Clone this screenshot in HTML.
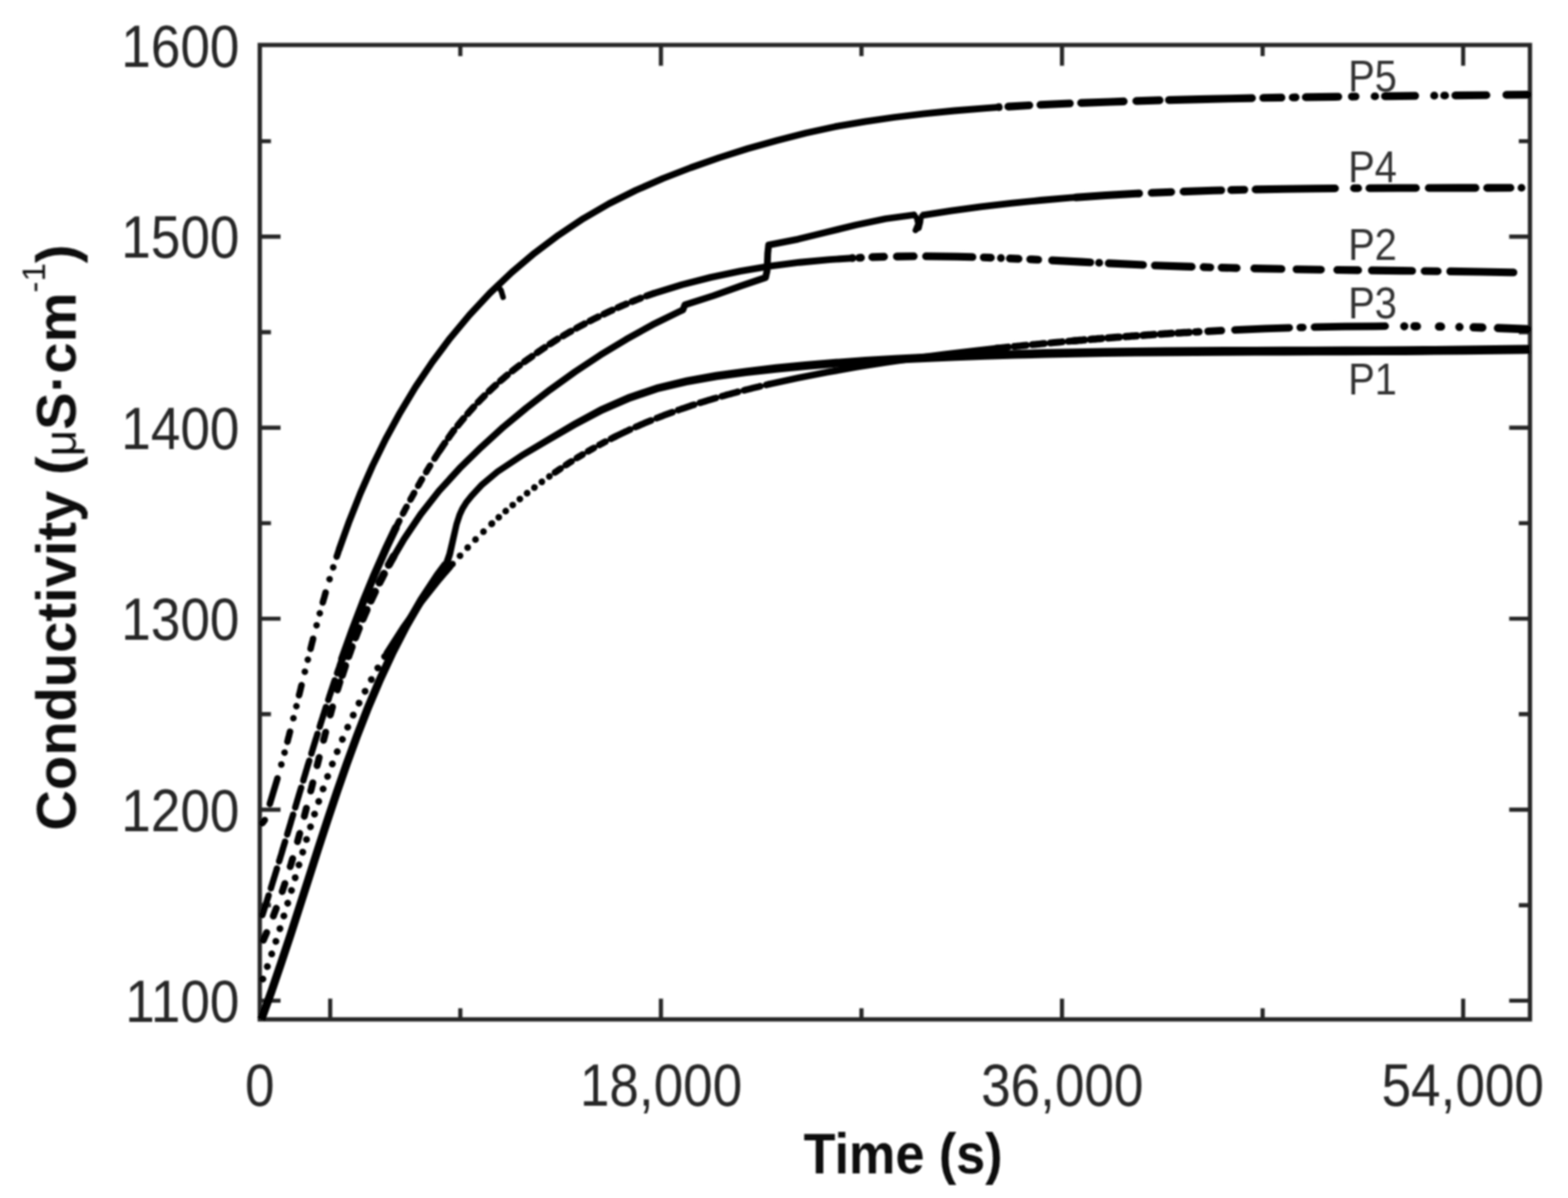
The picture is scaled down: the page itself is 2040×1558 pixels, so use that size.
<!DOCTYPE html>
<html lang="en">
<head>
<meta charset="utf-8">
<title>Conductivity vs Time</title>
<style>
html,body{margin:0;padding:0;background:#fff;}
body{width:2040px;height:1558px;overflow:hidden;}
svg{display:block;}
.t{font-family:"Liberation Sans",Arial,Helvetica,sans-serif;fill:#262626;}
.p{font-family:"Liberation Sans",Arial,Helvetica,sans-serif;fill:#333;}
.b{font-family:"Liberation Sans",Arial,Helvetica,sans-serif;font-weight:bold;fill:#111;}
</style>
</head>
<body>
<svg xmlns="http://www.w3.org/2000/svg" width="2040" height="1558" viewBox="0 0 2040 1558">
<defs><filter id="soft" x="0" y="0" width="2040" height="1558" filterUnits="userSpaceOnUse"><feGaussianBlur stdDeviation="1.25"/></filter></defs>
<rect width="2040" height="1558" fill="#fff"/>
<g filter="url(#soft)">
<g id="axes">
<rect x="338.0" y="58.5" width="1652.5" height="1267.2" fill="none" stroke="#262626" stroke-width="5.6"/>
<path d="M338.0 307.8h27 M1990.5 307.8h-27" stroke="#262626" stroke-width="5.4"/>
<path d="M338.0 556.2h27 M1990.5 556.2h-27" stroke="#262626" stroke-width="5.4"/>
<path d="M338.0 804.6h27 M1990.5 804.6h-27" stroke="#262626" stroke-width="5.4"/>
<path d="M338.0 1053.0h27 M1990.5 1053.0h-27" stroke="#262626" stroke-width="5.4"/>
<path d="M338.0 1301.4h27 M1990.5 1301.4h-27" stroke="#262626" stroke-width="5.4"/>
<path d="M338.0 183.6h14.5 M1990.5 183.6h-14.5" stroke="#262626" stroke-width="5.4"/>
<path d="M338.0 432.0h14.5 M1990.5 432.0h-14.5" stroke="#262626" stroke-width="5.4"/>
<path d="M338.0 680.4h14.5 M1990.5 680.4h-14.5" stroke="#262626" stroke-width="5.4"/>
<path d="M338.0 928.8h14.5 M1990.5 928.8h-14.5" stroke="#262626" stroke-width="5.4"/>
<path d="M338.0 1177.2h14.5 M1990.5 1177.2h-14.5" stroke="#262626" stroke-width="5.4"/>
<path d="M429.6 1325.7v-27" stroke="#262626" stroke-width="5.4"/>
<path d="M859.9 1325.7v-27 M859.9 58.5v27" stroke="#262626" stroke-width="5.4"/>
<path d="M1381.7 1325.7v-27 M1381.7 58.5v27" stroke="#262626" stroke-width="5.4"/>
<path d="M1903.6 1325.7v-27 M1903.6 58.5v27" stroke="#262626" stroke-width="5.4"/>
<path d="M598.9 1325.7v-14.5 M598.9 58.5v14.5" stroke="#262626" stroke-width="5.4"/>
<path d="M1120.8 1325.7v-14.5 M1120.8 58.5v14.5" stroke="#262626" stroke-width="5.4"/>
<path d="M1642.7 1325.7v-14.5 M1642.7 58.5v14.5" stroke="#262626" stroke-width="5.4"/>
</g>
<g id="curves">
<path d="M341.2 1275.1 L341.8 1273.7 L342.3 1272.3 L342.8 1270.9 L343.3 1269.5 L343.9 1268.1 L344.4 1266.7 L344.9 1265.3 L345.4 1263.9 L345.9 1262.4 L346.4 1261.0 L346.9 1259.6 L347.4 1258.2 L347.9 1256.8 L348.4 1255.4 L348.9 1254.0 L349.4 1252.6 L349.9 1251.1 L350.4 1249.7 L350.9 1248.3 L351.4 1246.9 L351.9 1245.5 L352.4 1244.0 L352.9 1242.6 L353.3 1241.2 L353.8 1239.8 L354.3 1238.4 L354.8 1236.9 L355.3 1235.5 L355.7 1234.1 L356.2 1232.7 L356.7 1231.2 L357.1 1229.8 L357.6 1228.4 L358.1 1227.0 L358.5 1225.5 L359.0 1224.1 L359.5 1222.7 L359.9 1221.3 L360.4 1219.8 L360.8 1218.4 L361.3 1217.0 L361.7 1215.5 L362.2 1214.1 L362.7 1212.7 L363.1 1211.3 L363.6 1209.8 L364.0 1208.4 L364.4 1207.0 L364.9 1205.5 L365.3 1204.1 L365.8 1202.7 L366.2 1201.2 L366.7 1199.8 L367.1 1198.4 L367.5 1196.9 L368.0 1195.5 L368.4 1194.1 L368.9 1192.6 L369.3 1191.2 L369.7 1189.8 L370.2 1188.3 L370.6 1186.9 L371.0 1185.5 L371.5 1184.0 L371.9 1182.6 L372.3 1181.1 L372.8 1179.7 L373.2 1178.3 L373.6 1176.8 L374.1 1175.4 L374.5 1174.0 L374.9 1172.5 L375.3 1171.1 L375.8 1169.6 L376.2 1168.2 L376.6 1166.8 L377.0 1165.3 L377.5 1163.9 L377.9 1162.4 L378.3 1161.0 L378.7 1159.6 L379.2 1158.1 L379.6 1156.7 L380.0 1155.3 L380.4 1153.8 L380.8 1152.4 L381.3 1150.9 L381.7 1149.5 L382.1 1148.1 L382.5 1146.6 L383.0 1145.2 L383.4 1143.7 L383.8 1142.3 L384.2 1140.9 L384.6 1139.4 L385.1 1138.0 L385.5 1136.5 L385.9 1135.1 L386.3 1133.7 L386.8 1132.2 L387.2 1130.8 L387.6 1129.3 L388.0 1127.9 L388.4 1126.5 L388.9 1125.0 L389.3 1123.6 L389.7 1122.2 L390.1 1120.7 L390.6 1119.3 L391.0 1117.8 L391.4 1116.4 L391.8 1115.0 L392.3 1113.5 L392.7 1112.1 L393.1 1110.6 L393.6 1109.2 L394.0 1107.8 L394.4 1106.3 L394.8 1104.9 L395.3 1103.5 L395.7 1102.0 L396.1 1100.6 L396.6 1099.2 L397.0 1097.7 L397.4 1096.3 L397.9 1094.8 L398.3 1093.4 L398.7 1092.0 L399.2 1090.5 L399.6 1089.1 L400.1 1087.7 L400.5 1086.2 L400.9 1084.8 L401.4 1083.4 L401.8 1081.9 L402.3 1080.5 L402.7 1079.1 L403.2 1077.6 L403.6 1076.2 L404.1 1074.8 L404.5 1073.3 L405.0 1071.9 L405.4 1070.5 L405.9 1069.1 L406.3 1067.6 L406.8 1066.2 L407.3 1064.8 L407.7 1063.3 L408.2 1061.9 L408.6 1060.5 L409.1 1059.1 L409.6 1057.6 L410.0 1056.2 L410.5 1054.8 L411.0 1053.4 L411.4 1051.9 L411.9 1050.5 L412.4 1049.1 L412.9 1047.7 L413.3 1046.2 L413.8 1044.8 L414.3 1043.4 L414.8 1042.0 L415.3 1040.6 L415.8 1039.1 L416.2 1037.7 L416.7 1036.3 L417.2 1034.9 L417.7 1033.5 L418.2 1032.1 L418.7 1030.6 L419.2 1029.2 L419.7 1027.8 L420.2 1026.4 L420.7 1025.0 L421.2 1023.6 L421.7 1022.2 L422.2 1020.8 L422.7 1019.3 L423.2 1017.9 L423.8 1016.5 L424.3 1015.1 L424.8 1013.7 L425.3 1012.3 L425.8 1010.9 L426.3 1009.5 L426.9 1008.1 L427.4 1006.7 L427.9 1005.3 L428.4 1003.9 L429.0 1002.5 L429.5 1001.1 L430.0 999.7 L430.6 998.3 L431.1 996.9 L431.7 995.5 L432.2 994.1 L432.7 992.7 L433.3 991.3 L433.8 989.9 L434.4 988.5 L434.9 987.1 L435.5 985.7 L436.0 984.3 L436.6 982.9 L437.2 981.5 L437.7 980.1 L438.3 978.7 L438.8 977.3 L439.4 975.9 L440.0 974.5 L440.5 973.2 L441.1 971.8 L441.7 970.4 L442.3 969.0 L442.8 967.6 L443.4 966.2 L444.0 964.9 L444.6 963.5 L445.2 962.1 L445.8 960.7 L446.4 959.3 L447.0 958.0 L447.6 956.6 L448.1 955.2 L448.7 953.8 L449.4 952.5 L450.0 951.1 L450.6 949.7 L451.2 948.3 L451.8 947.0 L452.4 945.6 L453.0 944.2 L453.6 942.9 L454.2 941.5 L454.9 940.1 L455.5 938.8 L456.1 937.4 L456.7 936.0 L457.4 934.7 L458.0 933.3 L458.6 932.0 L459.3 930.6 L459.9 929.2 L460.6 927.9 L461.2 926.5 L461.9 925.2 L462.5 923.8 L463.2 922.5 L463.8 921.1 L464.5 919.8 L465.1 918.4 L465.8 917.1 L466.4 915.7 L467.1 914.4 L467.8 913.1 L468.4 911.7 L469.1 910.4 L469.8 909.0 L470.5 907.7 L471.2 906.4 L471.8 905.0 L472.5 903.7 L473.2 902.4 L473.9 901.0 L474.6 899.7 L475.3 898.4 L476.0 897.0 L476.7 895.7 L477.4 894.4 L478.1 893.1 L478.8 891.7 L479.5 890.4 L480.2 889.1 L480.9 887.8 L481.6 886.4 L482.3 885.1 L483.1 883.8 L483.8 882.5 L484.5 881.2 L485.2 879.9 L486.0 878.6 L486.7 877.3 L487.4 875.9 L488.2 874.6 L488.9 873.3 L489.7 872.0 L490.4 870.7 L491.1 869.4 L491.9 868.1 L492.6 866.8 L493.4 865.5 L494.1 864.2 L494.9 862.9 L495.7 861.6 L496.4 860.4 L497.2 859.1 L498.0 857.8 L498.7 856.5 L499.5 855.2 L500.3 853.9 L501.0 852.6 L501.8 851.3 L502.6 850.1 L503.0 849.4" fill="none" stroke="#000" stroke-width="8.9" stroke-linecap="round" stroke-linejoin="round" stroke-dasharray="0.1 17.2" stroke-dashoffset="-2"/>
<path d="M503.0 849.4 L524.5 816.0 L547.2 784.3 L571.4 753.7 L586.0 736.7" fill="none" stroke="#000" stroke-width="8.3" stroke-linecap="round" stroke-linejoin="round"/>
<path d="M588.0 734.4 L588.0 734.4 L589.0 733.2 L590.0 732.1 L591.0 731.0 L592.0 729.9 L593.0 728.8 L594.0 727.7 L595.0 726.6 L596.0 725.4 L597.1 724.3 L598.1 723.2 L599.1 722.1 L600.1 721.0 L601.1 719.9 L602.2 718.8 L603.2 717.7 L604.2 716.6 L605.2 715.6 L606.3 714.5 L607.3 713.4 L608.3 712.3 L609.4 711.2 L610.4 710.1 L611.5 709.0 L612.5 708.0 L613.5 706.9 L614.6 705.8 L615.6 704.7 L616.7 703.7 L617.7 702.6 L618.8 701.5 L619.9 700.5 L620.9 699.4 L622.0 698.4 L623.0 697.3 L624.1 696.2 L625.2 695.2 L626.2 694.1 L627.3 693.1 L628.4 692.0 L629.5 691.0 L630.5 690.0 L631.6 688.9 L632.7 687.9 L633.8 686.8 L634.9 685.8 L636.0 684.8 L637.1 683.7 L638.1 682.7 L639.2 681.7 L640.0 681.0" fill="none" stroke="#000" stroke-width="8.7" stroke-linecap="round" stroke-linejoin="round" stroke-dasharray="0.1 14.5" stroke-dashoffset="-1"/>
<path d="M640.0 681.0 L640.3 680.7 L641.4 679.6 L642.5 678.6 L643.6 677.6 L644.7 676.6 L645.8 675.6 L646.9 674.6 L648.1 673.5 L649.2 672.5 L650.3 671.5 L651.4 670.5 L652.5 669.5 L653.6 668.5 L654.8 667.5 L655.9 666.5 L657.0 665.5 L658.1 664.6 L659.3 663.6 L660.4 662.6 L661.5 661.6 L662.6 660.6 L663.8 659.6 L664.9 658.7 L666.1 657.7 L667.2 656.7 L668.3 655.7 L669.5 654.8 L670.6 653.8 L671.8 652.8 L672.9 651.9 L674.1 650.9 L675.3 650.0 L676.4 649.0 L677.6 648.1 L678.7 647.1 L679.9 646.2 L681.1 645.2 L682.2 644.3 L683.4 643.3 L684.6 642.4 L685.7 641.5 L686.9 640.5 L688.1 639.6 L689.3 638.7 L690.4 637.7 L691.6 636.8 L692.8 635.9 L694.0 635.0 L695.2 634.1 L696.4 633.2 L697.6 632.2 L698.8 631.3 L700.0 630.4 L701.2 629.5 L702.4 628.6 L703.6 627.7 L704.8 626.8 L706.0 625.9 L707.2 625.0 L708.4 624.2 L709.6 623.3 L710.8 622.4 L712.0 621.5 L713.2 620.6 L714.5 619.8 L715.7 618.9 L716.9 618.0 L718.1 617.2 L719.3 616.3 L720.6 615.4 L721.8 614.6 L722.0 614.4" fill="none" stroke="#000" stroke-width="8.7" stroke-linecap="round" stroke-linejoin="round" stroke-dasharray="0.1 12"/>
<path d="M722.0 614.4 L723.0 613.7 L724.3 612.9 L725.5 612.0 L726.7 611.2 L728.0 610.3 L729.2 609.5 L730.5 608.6 L731.7 607.8 L733.0 607.0 L734.2 606.1 L735.5 605.3 L736.7 604.5 L738.0 603.7 L739.2 602.8 L740.5 602.0 L741.7 601.2 L743.0 600.4 L744.3 599.6 L745.5 598.8 L746.8 598.0 L748.1 597.2 L749.4 596.4 L750.6 595.6 L751.9 594.8 L753.2 594.0 L754.5 593.2 L755.7 592.5 L757.0 591.7 L758.3 590.9 L759.6 590.1 L760.9 589.4 L762.2 588.6 L763.5 587.9 L764.8 587.1 L766.1 586.3 L767.4 585.6 L768.7 584.8 L770.0 584.1 L771.3 583.4 L772.6 582.6 L773.9 581.9 L775.2 581.2 L776.5 580.4 L777.8 579.7 L779.1 579.0 L780.4 578.3 L781.8 577.5 L783.1 576.8 L784.4 576.1 L785.7 575.4 L787.1 574.7 L788.4 574.0 L789.7 573.3 L791.0 572.6 L792.4 571.9 L793.7 571.2 L795.0 570.6 L796.4 569.9 L797.7 569.2 L799.1 568.5 L800.0 568.1" fill="none" stroke="#000" stroke-width="8.7" stroke-linecap="round" stroke-linejoin="round" stroke-dasharray="9 8"/>
<path d="M800.0 568.1 L800.4 567.9 L801.7 567.2 L803.1 566.5 L804.4 565.9 L805.8 565.2 L807.1 564.6 L808.5 563.9 L809.8 563.3 L811.2 562.6 L812.5 562.0 L813.9 561.3 L815.3 560.7 L816.6 560.1 L818.0 559.4 L819.3 558.8 L820.7 558.2 L822.1 557.5 L823.4 556.9 L824.8 556.3 L826.2 555.7 L827.5 555.1 L828.9 554.5 L830.3 553.9 L831.7 553.3 L833.0 552.7 L834.4 552.1 L835.8 551.5 L837.2 550.9 L838.5 550.3 L839.9 549.7 L841.3 549.2 L842.7 548.6 L844.1 548.0 L845.5 547.4 L846.9 546.9 L848.2 546.3 L849.6 545.7 L851.0 545.2 L852.4 544.6 L853.8 544.1 L855.2 543.5 L856.6 543.0 L858.0 542.4 L859.4 541.9 L860.8 541.3 L862.2 540.8 L863.6 540.2 L865.0 539.7 L866.4 539.2 L867.8 538.7 L869.2 538.1 L870.6 537.6 L872.0 537.1 L873.4 536.6 L874.8 536.1 L876.2 535.5 L877.7 535.0 L879.1 534.5 L880.5 534.0 L881.9 533.5 L883.3 533.0 L884.7 532.5 L886.1 532.0 L887.6 531.5 L889.0 531.0 L890.4 530.6 L891.8 530.1 L893.2 529.6 L894.7 529.1 L896.1 528.6 L897.5 528.2 L898.9 527.7 L900.3 527.2 L901.8 526.7 L903.2 526.3 L904.6 525.8 L906.1 525.4 L907.5 524.9 L908.9 524.4 L910.3 524.0 L911.8 523.5 L913.2 523.1 L914.6 522.6 L916.1 522.2 L917.5 521.8 L918.9 521.3 L920.4 520.9 L921.8 520.4 L923.2 520.0 L924.7 519.6 L926.1 519.1 L927.6 518.7 L929.0 518.3 L930.4 517.9 L931.9 517.4 L933.3 517.0 L934.8 516.6 L936.2 516.2 L937.6 515.8 L939.1 515.4 L940.5 515.0 L942.0 514.6 L943.4 514.2 L944.9 513.7 L946.3 513.3 L947.7 512.9 L949.2 512.6 L950.6 512.2 L952.1 511.8 L953.5 511.4 L955.0 511.0 L956.4 510.6 L957.9 510.2 L959.3 509.8 L960.8 509.4 L962.2 509.1 L963.7 508.7 L965.1 508.3 L966.6 507.9 L968.0 507.6 L969.5 507.2 L971.0 506.8 L972.4 506.5 L973.9 506.1 L975.3 505.7 L976.8 505.4 L978.2 505.0 L979.7 504.6 L981.1 504.3 L982.6 503.9 L984.1 503.6 L985.5 503.2 L987.0 502.9 L988.4 502.5 L989.9 502.2 L991.3 501.8 L992.8 501.5 L994.3 501.2 L995.7 500.8 L997.2 500.5 L998.7 500.1 L1000.0 499.8" fill="none" stroke="#000" stroke-width="8.7" stroke-linecap="round" stroke-linejoin="round" stroke-dasharray="22 7.8"/>
<path d="M1000.0 499.8 L1038.2 491.5 L1076.5 484.0 L1114.9 477.3 L1153.4 471.1 L1192.0 465.6 L1230.7 460.6 L1269.4 456.0 L1300.0 452.6" fill="none" stroke="#000" stroke-width="8.7" stroke-linecap="butt" stroke-linejoin="round"/>
<path d="M1296.0 453.0 L1296.3 453.0 L1297.8 452.8 L1299.2 452.7 L1300.7 452.5 L1302.2 452.4 L1303.7 452.2 L1305.2 452.1 L1306.7 451.9 L1308.2 451.7 L1309.7 451.6 L1311.2 451.4 L1312.7 451.3 L1314.2 451.1 L1315.7 451.0 L1317.2 450.8 L1318.6 450.7 L1320.1 450.5 L1321.6 450.4 L1323.1 450.2 L1324.6 450.1 L1326.1 449.9 L1327.6 449.8 L1329.1 449.6 L1330.6 449.5 L1332.1 449.3 L1333.6 449.2 L1335.1 449.0 L1336.6 448.9 L1338.0 448.7 L1339.5 448.6 L1341.0 448.4 L1342.5 448.3 L1344.0 448.1 L1345.5 448.0 L1347.0 447.9 L1348.5 447.7 L1350.0 447.6 L1351.5 447.4 L1353.0 447.3 L1354.5 447.1 L1356.0 447.0 L1357.5 446.8 L1358.9 446.7 L1360.4 446.6 L1361.9 446.4 L1363.4 446.3 L1364.9 446.1 L1366.4 446.0 L1367.9 445.9 L1369.4 445.7 L1370.9 445.6 L1372.4 445.5 L1373.9 445.3 L1375.4 445.2 L1376.9 445.0 L1378.4 444.9 L1379.9 444.8 L1381.4 444.6 L1382.8 444.5 L1384.3 444.4 L1385.8 444.2 L1387.3 444.1 L1388.8 444.0 L1390.3 443.8 L1391.8 443.7 L1393.3 443.6 L1394.8 443.4 L1396.3 443.3 L1397.8 443.2 L1399.3 443.0 L1400.0 443.0" fill="none" stroke="#000" stroke-width="9.0" stroke-linecap="round" stroke-linejoin="round" stroke-dasharray="16 7.6"/>
<path d="M1396.0 443.3 L1396.3 443.3 L1397.8 443.2 L1399.3 443.0 L1400.8 442.9 L1402.3 442.8 L1403.8 442.6 L1405.3 442.5 L1406.8 442.4 L1408.2 442.3 L1409.7 442.1 L1411.2 442.0 L1412.7 441.9 L1414.2 441.8 L1415.7 441.6 L1417.2 441.5 L1418.7 441.4 L1420.2 441.2 L1421.7 441.1 L1423.2 441.0 L1424.7 440.9 L1426.2 440.8 L1427.7 440.6 L1429.2 440.5 L1430.7 440.4 L1432.2 440.3 L1433.7 440.1 L1435.2 440.0 L1436.7 439.9 L1438.1 439.8 L1439.6 439.7 L1441.1 439.5 L1442.6 439.4 L1444.1 439.3 L1445.6 439.2 L1447.1 439.1 L1448.6 439.0 L1450.1 438.8 L1451.6 438.7 L1453.1 438.6 L1454.6 438.5 L1456.1 438.4 L1457.6 438.3 L1459.1 438.1 L1460.6 438.0 L1462.1 437.9 L1463.6 437.8 L1465.1 437.7 L1466.6 437.6 L1468.1 437.5 L1469.6 437.4 L1471.0 437.2 L1472.5 437.1 L1474.0 437.0 L1475.5 436.9 L1477.0 436.8 L1478.5 436.7 L1480.0 436.6 L1481.5 436.5 L1483.0 436.4 L1484.5 436.3 L1486.0 436.2 L1487.5 436.1 L1489.0 436.0 L1490.5 435.8 L1492.0 435.7 L1493.5 435.6 L1495.0 435.5 L1496.5 435.4 L1498.0 435.3 L1499.5 435.2 L1501.0 435.1 L1502.5 435.0 L1504.0 434.9 L1505.5 434.8 L1507.0 434.7 L1508.5 434.6 L1510.0 434.5 L1511.5 434.4 L1512.9 434.3 L1514.4 434.2 L1515.9 434.1 L1517.4 434.0 L1518.9 433.9 L1520.4 433.8 L1521.9 433.7 L1523.4 433.6 L1524.9 433.6 L1526.4 433.5 L1527.9 433.4 L1529.4 433.3 L1530.9 433.2 L1532.4 433.1 L1533.9 433.0 L1535.4 432.9 L1536.9 432.8 L1538.4 432.7 L1539.9 432.6 L1541.4 432.5 L1542.9 432.4 L1544.4 432.4 L1545.9 432.3 L1547.4 432.2 L1548.9 432.1 L1550.4 432.0 L1551.9 431.9 L1553.4 431.8 L1554.9 431.7 L1556.4 431.7 L1557.9 431.6 L1559.4 431.5 L1560.0 431.5" fill="none" stroke="#000" stroke-width="9.5" stroke-linecap="round" stroke-linejoin="round" stroke-dasharray="15 7.8"/>
<path d="M1559.0 431.5 L1559.0 431.5 M1571.6 430.8 L1589.1 429.9 M1606.6 429.1 L1646.3 427.4 L1677.4 426.3 M1691.6 425.9 L1695.1 425.8 M1710.1 425.4 L1749.7 424.7 L1788.7 424.3 L1802.2 424.2" fill="none" stroke="#000" stroke-width="9.7" stroke-linecap="round" stroke-linejoin="round"/>
<path d="M1827.0 424.3 L1827.0 424.3 M1840.2 424.3 L1843.4 424.4 M1872.2 424.7 L1874.8 424.7 M1898.7 425.2 L1898.8 425.2 M1917.2 425.7 L1928.5 426.0 M1948.9 426.7 L1986.8 428.2" fill="none" stroke="#000" stroke-width="10.8" stroke-linecap="round" stroke-linejoin="round"/>
<path d="M344.9 1327.7 L358.2 1291.0 L370.8 1254.0 L383.1 1217.0 L395.1 1179.8 L407.0 1142.7 L418.9 1105.6 L431.0 1068.5 L443.4 1031.6 L456.2 994.8 L469.6 958.3 L483.8 922.1 L498.9 886.4 L515.3 851.2 L533.1 816.7 L552.5 783.2 L573.5 750.6 L583.7 735.6 L585.1 735.1 L589.4 721.7 L598.0 682.7 L601.9 670.9 L605.2 663.7 L610.1 655.8 L616.8 647.5 L629.6 633.7 L649.8 616.7 L682.0 595.4 L715.7 575.8 L749.9 556.1 L784.5 537.8 L820.2 522.2 L857.0 509.8 L894.6 501.0 L932.8 494.3 L971.3 489.1 L1009.9 484.7 L1048.6 480.9 L1087.4 477.8 L1126.3 475.1 L1165.2 472.8 L1204.1 470.9 L1243.0 469.2 L1281.9 467.7 L1320.9 466.5 L1359.8 465.5 L1398.8 464.7 L1437.8 464.1 L1476.8 463.5 L1515.7 463.2 L1554.7 462.9 L1593.7 462.7 L1632.7 462.5 L1671.7 462.4 L1710.7 462.3 L1749.7 462.2 L1788.7 462.1 L1827.7 461.9 L1866.7 461.6 L1905.7 461.3 L1944.8 460.8 L1983.8 460.2 L1990.1 460.1 L1989.9 448.4 L1983.6 448.5 L1944.6 449.1 L1905.6 449.6 L1866.6 450.0 L1827.6 450.2 L1788.7 450.4 L1749.7 450.6 L1710.7 450.7 L1671.7 450.8 L1632.7 450.9 L1593.7 451.1 L1554.6 451.3 L1515.6 451.6 L1476.6 452.0 L1437.6 452.5 L1398.6 453.2 L1359.6 454.1 L1320.5 455.2 L1281.5 456.4 L1242.5 457.9 L1203.5 459.7 L1164.5 461.7 L1125.6 464.0 L1086.6 466.8 L1047.7 470.0 L1008.8 473.8 L969.9 478.4 L931.1 483.8 L892.5 490.8 L854.2 500.0 L816.6 512.8 L780.2 528.8 L745.2 547.7 L711.2 568.0 L677.5 588.2 L644.9 609.9 L623.9 627.6 L610.5 642.0 L603.3 651.0 L597.9 659.8 L594.1 668.0 L590.0 680.7 L580.8 719.5 L576.6 731.6 L576.5 729.8 L565.1 745.0 L543.5 777.7 L523.9 811.7 L505.9 846.6 L489.3 882.1 L474.0 918.1 L459.8 954.6 L446.3 991.3 L433.4 1028.2 L421.0 1065.2 L408.9 1102.3 L397.0 1139.5 L385.1 1176.6 L373.1 1213.7 L360.8 1250.6 L348.2 1287.5 L335.0 1324.1Z" fill="#000"/>
<path d="M341.3 1190.1 L341.8 1188.7 L342.3 1187.3 L342.7 1185.8 L343.2 1184.4 L343.6 1183.0 L344.1 1181.5 L344.6 1180.1 L345.0 1178.7 L345.5 1177.3 L345.9 1175.8 L346.4 1174.4 L346.8 1173.0 L347.3 1171.5 L347.7 1170.1 L348.2 1168.7 L348.6 1167.2 L349.1 1165.8 L349.5 1164.4 L350.0 1162.9 L350.4 1161.5 L350.9 1160.1 L351.3 1158.7 L351.8 1157.2 L352.2 1155.8 L352.7 1154.4 L353.1 1152.9 L353.5 1151.5 L354.0 1150.1 L354.4 1148.6 L354.9 1147.2 L355.3 1145.8 L355.8 1144.3 L356.2 1142.9 L356.6 1141.5 L357.1 1140.0 L357.5 1138.6 L358.0 1137.2 L358.4 1135.7 L358.8 1134.3 L359.3 1132.9 L359.7 1131.4 L360.2 1130.0 L360.6 1128.5 L361.0 1127.1 L361.5 1125.7 L361.9 1124.2 L362.3 1122.8 L362.8 1121.4 L363.2 1119.9 L363.6 1118.5 L364.1 1117.1 L364.5 1115.6 L364.9 1114.2 L365.4 1112.8 L365.8 1111.3 L366.3 1109.9 L366.7 1108.4 L367.1 1107.0 L367.5 1105.6 L368.0 1104.1 L368.4 1102.7 L368.8 1101.3 L369.3 1099.8 L369.7 1098.4 L370.1 1097.0 L370.6 1095.5 L371.0 1094.1 L371.4 1092.6 L371.9 1091.2 L372.3 1089.8 L372.7 1088.3 L373.1 1086.9 L373.6 1085.5 L374.0 1084.0 L374.4 1082.6 L374.9 1081.1 L375.3 1079.7 L375.7 1078.3 L376.1 1076.8 L376.6 1075.4 L377.0 1074.0 L377.4 1072.5 L377.9 1071.1 L378.3 1069.6 L378.7 1068.2 L379.1 1066.8 L379.6 1065.3 L380.0 1063.9 L380.4 1062.5 L380.9 1061.0 L381.3 1059.6 L381.7 1058.1 L382.1 1056.7 L382.6 1055.3 L383.0 1053.8 L383.4 1052.4 L383.8 1051.0 L384.3 1049.5 L384.7 1048.1 L385.1 1046.6 L385.6 1045.2 L386.0 1043.8 L386.4 1042.3 L386.8 1040.9 L387.3 1039.5 L387.7 1038.0 L388.1 1036.6 L388.6 1035.1 L389.0 1033.7 L389.4 1032.3 L389.8 1030.8 L390.3 1029.4 L390.7 1028.0 L391.1 1026.5 L391.6 1025.1 L392.0 1023.6 L392.4 1022.2 L392.8 1020.8 L393.3 1019.3 L393.7 1017.9 L394.1 1016.5 L394.6 1015.0 L395.0 1013.6 L395.4 1012.1 L395.9 1010.7 L396.3 1009.3 L396.7 1007.8 L397.2 1006.4 L397.6 1005.0 L398.0 1003.5 L398.4 1002.1 L398.9 1000.7 L399.3 999.2 L399.7 997.8 L400.2 996.3 L400.6 994.9 L401.0 993.5 L401.5 992.0 L401.9 990.6 L402.4 989.2 L402.8 987.7 L403.2 986.3 L403.7 984.9 L404.1 983.4 L404.5 982.0 L405.0 980.6 L405.4 979.1 L405.8 977.7 L406.3 976.3 L406.7 974.8 L407.2 973.4 L407.6 972.0 L408.0 970.5 L408.5 969.1 L408.9 967.6 L409.4 966.2 L409.8 964.8 L410.2 963.3 L410.7 961.9 L411.1 960.5 L411.6 959.0 L412.0 957.6 L412.5 956.2 L412.9 954.8 L413.4 953.3 L413.8 951.9 L414.2 950.5 L414.7 949.0 L415.1 947.6 L415.6 946.2 L416.0 944.7 L416.5 943.3 L416.9 941.9 L417.4 940.4 L417.8 939.0 L418.3 937.6 L418.7 936.1 L419.2 934.7 L419.7 933.3 L420.1 931.9 L420.6 930.4 L421.0 929.0 L421.5 927.6 L421.9 926.1 L422.4 924.7 L422.8 923.3 L423.3 921.9 L423.8 920.4 L424.2 919.0 L424.7 917.6 L425.1 916.1 L425.6 914.7 L426.1 913.3 L426.5 911.9 L427.0 910.4 L427.5 909.0 L427.9 907.6 L428.4 906.2 L428.8 904.7 L429.3 903.3 L429.8 901.9 L430.3 900.5 L430.7 899.0 L431.2 897.6 L431.7 896.2 L432.1 894.8 L432.6 893.3 L433.1 891.9 L433.6 890.5 L434.0 889.1 L434.5 887.6 L435.0 886.2 L435.5 884.8 L435.9 883.4 L436.4 882.0 L436.9 880.5 L437.4 879.1 L437.9 877.7 L438.3 876.3 L438.8 874.9 L439.3 873.4 L439.8 872.0 L440.3 870.6 L440.8 869.2 L441.3 867.8 L441.7 866.3 L442.2 864.9 L442.7 863.5 L443.2 862.1 L443.7 860.7 L444.2 859.2 L444.7 857.8 L445.0 856.9" fill="none" stroke="#000" stroke-width="8.3" stroke-linecap="round" stroke-linejoin="round" stroke-dasharray="27 9.6"/>
<path d="M445.0 856.9 L458.4 819.7 L472.3 783.3 L487.1 747.2 L502.9 711.6 L515.0 686.3" fill="none" stroke="#000" stroke-width="10.2" stroke-linecap="round" stroke-linejoin="round"/>
<path d="M515.0 686.3 L515.2 685.9 L515.9 684.5 L516.6 683.2 L517.2 681.8 L517.9 680.5 L518.6 679.1 L519.3 677.8 L519.9 676.5 L520.6 675.1 L521.3 673.8 L522.0 672.5 L522.7 671.1 L523.4 669.8 L524.0 668.5 L524.7 667.1 L525.4 665.8 L526.1 664.5 L526.8 663.1 L527.5 661.8 L528.2 660.5 L528.9 659.2 L529.6 657.8 L530.3 656.5 L531.1 655.2 L531.8 653.9 L532.5 652.6 L533.2 651.2 L533.9 649.9 L534.6 648.6 L535.4 647.3 L536.1 646.0 L536.8 644.7 L537.5 643.4 L538.3 642.1 L539.0 640.7 L539.8 639.4 L540.5 638.1 L541.2 636.8 L542.0 635.5 L542.7 634.1 L543.5 632.8 L544.2 631.5 L545.0 630.2 L545.7 628.9 L546.5 627.5 L547.2 626.2 L548.0 624.9 L548.8 623.6 L549.5 622.3 L550.3 621.0 L551.1 619.7 L551.8 618.4 L552.6 617.1 L553.4 615.7 L554.2 614.4 L555.0 613.1 L555.8 611.8 L556.5 610.5 L557.3 609.2 L558.1 607.9 L558.9 606.6 L559.7 605.4 L560.5 604.1 L561.3 602.8 L562.1 601.5 L562.9 600.2 L563.8 598.9 L564.6 597.6 L565.4 596.3 L566.2 595.1 L567.0 593.8 L567.9 592.5 L568.7 591.2 L569.5 590.0 L570.4 588.7 L571.2 587.4 L572.0 586.2" fill="none" stroke="#000" stroke-width="8.5" stroke-linecap="round" stroke-linejoin="round" stroke-dasharray="10 10.6"/>
<path d="M572.0 586.2 L572.0 586.1 L572.9 584.9 L573.7 583.6 L574.6 582.4 L575.4 581.1 L576.3 579.8 L577.1 578.6 L578.0 577.3 L578.8 576.1 L579.7 574.8 L580.6 573.6 L581.4 572.3 L582.3 571.1 L583.2 569.8 L584.1 568.6 L585.0 567.3 L585.8 566.1 L586.7 564.9 L587.6 563.6 L588.5 562.4 L589.4 561.2 L590.3 560.0 L591.2 558.8 L592.1 557.7 L593.0 556.5 L593.9 555.4 L594.9 554.2 L595.8 553.1 L596.7 552.0 L597.6 550.8 L598.6 549.7 L599.5 548.6 L600.4 547.5 L601.4 546.3 L602.3 545.2 L603.3 544.1 L604.2 543.0 L605.2 541.9 L606.1 540.8 L607.1 539.6 L608.0 538.5 L609.0 537.4 L610.0 536.3 L610.9 535.2 L611.9 534.2 L612.9 533.1 L613.9 532.0 L614.8 530.9 L615.8 529.8 L616.8 528.7 L617.8 527.7 L618.8 526.6 L619.8 525.5 L620.8 524.5 L621.8 523.4 L622.8 522.3 L623.8 521.3 L624.9 520.2 L625.9 519.2 L626.9 518.1 L627.9 517.1 L629.0 516.1 L630.0 515.0 L631.0 514.0 L632.1 513.0 L633.1 512.0 L634.2 510.9 L635.2 509.9 L636.3 508.9 L637.3 507.9 L638.4 506.9 L639.5 505.9 L640.5 504.9 L641.6 503.9 L642.7 502.9 L643.8 501.9 L644.9 500.9 L645.9 499.9 L647.0 498.9 L648.1 497.9 L649.2 496.9 L650.3 496.0 L651.4 495.0 L652.5 494.0 L653.7 493.1 L654.8 492.1 L655.9 491.2 L657.0 490.2 L658.1 489.3 L659.3 488.3 L660.4 487.4 L661.5 486.4 L662.7 485.5 L663.8 484.6 L665.0 483.7 L666.1 482.8 L667.3 481.8 L668.4 480.9 L669.6 480.0 L670.7 479.1 L671.9 478.2 L673.1 477.3 L674.2 476.4 L675.4 475.6 L676.6 474.7 L677.8 473.8 L679.0 472.9 L680.2 472.1 L681.3 471.2 L682.5 470.3 L683.7 469.5 L684.9 468.6 L686.1 467.8 L687.3 466.9 L688.6 466.1 L689.8 465.3 L691.0 464.4 L692.2 463.5 L693.4 462.6 L694.6 461.7 L695.9 460.8 L697.1 459.9 L698.3 459.1 L699.6 458.2 L700.8 457.3 L702.0 456.5 L703.3 455.6 L704.5 454.7 L705.8 453.9 L707.0 453.0 L708.3 452.2 L709.5 451.4 L710.8 450.5 L712.0 449.7 L713.3 448.8 L714.5 448.0 L715.8 447.2 L717.1 446.4 L718.4 445.6 L719.6 444.8 L720.9 443.9 L722.2 443.1 L723.5 442.3 L724.7 441.5 L726.0 440.7 L727.3 440.0 L728.6 439.2 L729.9 438.4 L731.2 437.6 L732.5 436.8 L733.8 436.1 L735.1 435.3 L736.4 434.5 L737.7 433.8 L739.0 433.0 L740.3 432.2 L741.6 431.5 L742.9 430.8 L744.2 430.0 L745.5 429.3 L746.9 428.5 L748.2 427.8 L749.5 427.1 L750.8 426.3 L752.1 425.6 L753.5 424.9 L754.8 424.2 L756.1 423.5 L757.5 422.8 L758.8 422.1 L760.1 421.3 L761.5 420.6 L762.8 419.9 L764.1 419.2 L765.5 418.5 L766.8 417.8 L768.2 417.1 L769.5 416.4 L770.9 415.7 L772.2 415.0 L773.6 414.4 L774.9 413.7 L776.3 413.0 L777.6 412.3 L779.0 411.7 L780.4 411.0 L781.7 410.3 L783.1 409.7 L784.4 409.0 L785.8 408.4 L787.2 407.7 L788.5 407.1 L789.9 406.4 L791.3 405.8 L792.7 405.1 L794.0 404.5 L795.4 403.9 L796.8 403.2 L798.2 402.6 L799.5 402.0 L800.9 401.4 L802.3 400.8 L803.7 400.1 L805.1 399.5 L806.5 398.9 L807.8 398.3 L809.2 397.7 L810.6 397.1 L812.0 396.5 L813.4 395.9 L814.8 395.3 L816.2 394.8 L817.6 394.2 L819.0 393.6 L820.4 393.0 L821.8 392.4 L823.2 391.9 L824.6 391.3 L826.0 390.7 L827.4 390.2 L828.8 389.6 L830.2 389.1 L831.6 388.5 L833.0 388.0 L834.4 387.4 L835.9 386.9 L837.3 386.3 L838.7 385.8 L840.1 385.2 L841.5 384.7 L842.9 384.3 L844.3 383.8 L845.8 383.3 L847.2 382.8 L848.6 382.3 L850.0 381.8" fill="none" stroke="#000" stroke-width="8.9" stroke-linecap="round" stroke-linejoin="round" stroke-dasharray="12.5 7.6"/>
<path d="M850.0 381.8 L887.3 370.3 L925.0 360.6 L963.2 352.6 L1001.7 346.2 L1040.4 341.2 L1079.2 337.6 L1112.0 335.5" fill="none" stroke="#000" stroke-width="8.9" stroke-linecap="butt" stroke-linejoin="round"/>
<path d="M1109.0 335.6 L1109.0 335.6 M1117.8 335.2 L1120.2 335.1 M1134.8 334.4 L1150.2 333.9 M1166.8 333.6 L1188.8 333.3 M1204.8 333.3 L1244.1 333.8 L1265.2 334.3 M1279.8 334.8 L1289.2 335.1 M1302.2 335.6 L1302.3 335.6 M1313.8 336.1 L1325.2 336.6 M1340.3 337.2 L1350.7 337.7 M1368.8 338.6 L1407.4 340.6 L1418.6 341.2 M1429.8 341.8 L1430.2 341.8 M1442.4 342.4 L1482.3 344.3 L1487.1 344.5 M1502.5 345.2 L1542.3 346.6 L1550.5 346.9 M1565.8 347.4 L1574.7 347.7 M1589.3 348.1 L1608.9 348.6 M1631.8 349.1 L1667.2 349.8 M1686.8 350.2 L1718.6 350.7 M1739.8 351.0 L1767.0 351.4 M1784.8 351.6 L1824.2 352.1 L1837.2 352.3 M1853.4 352.5 L1870.5 352.7 M1886.8 352.9 L1926.2 353.5 L1965.2 354.2 L1969.0 354.3" fill="none" stroke="#000" stroke-width="10.1" stroke-linecap="round" stroke-linejoin="round"/>
<path d="M340.2 1228.3 L340.8 1226.9 L341.4 1225.5 L342.0 1224.1 L342.6 1222.8 L343.2 1221.4 L343.8 1220.0 L344.4 1218.7 L345.0 1217.3 L345.6 1215.9 L346.2 1214.5 L346.8 1213.1 L347.4 1211.8 L348.0 1210.4 L348.5 1209.0 L349.1 1207.6 L349.7 1206.2 L350.3 1204.8 L350.8 1203.4 L351.4 1202.0 L351.9 1200.7 L352.5 1199.3 L353.0 1197.9 L353.6 1196.5 L354.1 1195.1 L354.7 1193.7 L355.2 1192.3 L355.8 1190.9 L356.3 1189.5 L356.8 1188.1 L357.4 1186.7 L357.9 1185.3 L358.4 1183.9 L359.0 1182.5 L359.5 1181.1 L360.0 1179.6 L360.5 1178.2 L361.0 1176.8 L361.5 1175.4 L362.0 1174.0 L362.6 1172.6 L363.1 1171.2 L363.6 1169.8 L364.1 1168.4 L364.6 1166.9 L365.1 1165.5 L365.5 1164.1 L366.0 1162.7 L366.5 1161.3 L367.0 1159.8 L367.5 1158.4 L368.0 1157.0 L368.4 1155.6 L368.9 1154.2 L369.4 1152.7 L369.9 1151.3 L370.3 1149.9 L370.8 1148.5 L371.3 1147.0 L371.7 1145.6 L372.2 1144.2 L372.7 1142.8 L373.1 1141.3 L373.6 1139.9 L374.0 1138.5 L374.5 1137.0 L374.9 1135.6 L375.4 1134.2 L375.8 1132.7 L376.3 1131.3 L376.7 1129.9 L377.1 1128.4 L377.6 1127.0 L378.0 1125.6 L378.5 1124.1 L378.9 1122.7 L379.3 1121.3 L379.7 1119.8 L380.2 1118.4 L380.6 1117.0 L381.0 1115.5 L381.4 1114.1 L381.9 1112.6 L382.3 1111.2 L382.7 1109.8 L383.1 1108.3 L383.5 1106.9 L384.0 1105.4 L384.4 1104.0 L384.8 1102.5 L385.2 1101.1 L385.6 1099.7 L386.0 1098.2 L386.4 1096.8 L386.8 1095.3 L387.2 1093.9 L387.6 1092.4 L388.0 1091.0 L388.4 1089.5 L388.8 1088.1 L389.2 1086.7 L389.6 1085.2 L390.0 1083.8 L390.4 1082.3 L390.8 1080.9 L391.2 1079.4 L391.6 1078.0 L392.0 1076.5 L392.3 1075.1 L392.7 1073.6 L393.1 1072.2 L393.5 1070.7 L393.9 1069.3 L394.3 1067.8 L394.6 1066.4 L395.0 1064.9 L395.4 1063.5 L395.8 1062.0 L396.2 1060.6 L396.5 1059.1 L396.9 1057.7 L397.3 1056.2 L397.7 1054.8 L398.0 1053.3 L398.4 1051.9 L398.8 1050.4 L399.2 1048.9 L399.5 1047.5 L399.9 1046.0 L400.3 1044.6 L400.7 1043.1 L401.0 1041.7 L401.4 1040.2 L401.8 1038.8 L402.1 1037.3 L402.5 1035.9 L402.9 1034.4 L403.2 1033.0 L403.6 1031.5 L404.0 1030.0 L404.3 1028.6 L404.7 1027.1 L405.1 1025.7 L405.4 1024.2 L405.8 1022.8 L406.2 1021.3 L406.5 1019.9 L406.9 1018.4 L407.3 1017.0 L407.6 1015.5 L408.0 1014.0 L408.3 1012.6 L408.7 1011.1 L409.1 1009.7 L409.4 1008.2 L409.8 1006.8 L410.2 1005.3 L410.5 1003.9 L410.9 1002.4 L411.3 1000.9 L411.6 999.5 L412.0 998.0 L412.4 996.6 L412.7 995.1 L413.1 993.7 L413.5 992.2 L413.8 990.8 L414.2 989.3 L414.6 987.9 L414.9 986.4 L415.3 984.9 L415.7 983.5 L416.0 982.0 L416.4 980.6 L416.8 979.1 L417.1 977.7 L417.5 976.2 L417.9 974.8 L418.2 973.3 L418.6 971.9 L419.0 970.4 L419.4 969.0 L419.7 967.5 L420.1 966.1 L420.5 964.6 L420.9 963.1 L421.2 961.7 L421.6 960.2 L422.0 958.8 L422.4 957.3 L422.7 955.9 L423.1 954.4 L423.5 953.0 L423.9 951.5 L424.3 950.1 L424.6 948.6 L425.0 947.2 L425.4 945.7 L425.8 944.3 L426.2 942.8 L426.6 941.4 L427.0 939.9 L427.4 938.5 L427.8 937.0 L428.1 935.6 L428.5 934.1 L428.9 932.7 L429.3 931.3 L429.7 929.8 L430.1 928.4 L430.5 926.9 L430.9 925.5 L431.3 924.0 L431.7 922.6 L432.1 921.1 L432.5 919.7 L433.0 918.2 L433.4 916.8 L433.8 915.4 L434.2 913.9 L434.6 912.5 L435.0 911.0 L435.4 909.6 L435.8 908.2 L436.3 906.7 L436.7 905.3 L437.1 903.8 L437.5 902.4 L438.0 901.0 L438.4 899.5 L438.8 898.1 L439.2 896.6 L439.7 895.2 L440.1 893.8 L440.6 892.3 L441.0 890.9 L441.4 889.5 L441.9 888.0 L442.3 886.6 L442.8 885.2 L443.2 883.7 L443.7 882.3 L444.1 880.9 L444.6 879.5 L445.0 878.1" fill="none" stroke="#000" stroke-width="9.0" stroke-linecap="round" stroke-linejoin="round" stroke-dasharray="11 23" stroke-dashoffset="-6"/>
<path d="M445.0 878.1 L445.0 878.0 L445.5 876.6 L445.9 875.2 L446.4 873.7 L446.9 872.3 L447.3 870.9 L447.8 869.5 L448.3 868.0 L448.7 866.6 L449.2 865.2 L449.7 863.8 L450.2 862.3 L450.7 860.9 L451.1 859.5 L451.6 858.1 L452.1 856.7 L452.6 855.3 L453.1 853.8 L453.6 852.4 L454.1 851.0 L454.6 849.6 L455.1 848.2 L455.6 846.8 L456.1 845.4 L456.6 843.9 L457.1 842.5 L457.7 841.1 L458.2 839.7 L458.7 838.3 L459.2 836.9 L459.7 835.5 L460.3 834.1 L460.8 832.7 L461.3 831.3 L461.9 829.9 L462.4 828.5 L462.9 827.1 L463.5 825.7 L464.0 824.3 L464.6 822.9 L465.1 821.5 L465.7 820.1 L466.2 818.7 L466.8 817.3 L467.4 815.9 L467.9 814.5 L468.5 813.2 L469.0 811.8 L469.6 810.4 L470.2 809.0 L470.8 807.6 L471.3 806.2 L471.9 804.8 L472.5 803.5 L473.1 802.1 L473.7 800.7 L474.3 799.3 L474.9 797.9 L475.5 796.6 L476.1 795.2 L476.7 793.8 L477.3 792.4 L477.9 791.1 L478.5 789.7 L479.1 788.3 L479.7 787.0 L480.3 785.6 L481.0 784.2 L481.6 782.9 L482.2 781.5 L482.8 780.1 L483.5 778.8 L484.1 777.4 L484.7 776.1 L485.4 774.7 L486.0 773.3 L486.7 772.0 L487.3 770.6 L488.0 769.3 L488.6 767.9 L489.3 766.6 L489.9 765.2 L490.6 763.9 L491.3 762.6 L491.9 761.2 L492.6 759.9 L493.3 758.5 L493.9 757.2 L494.6 755.8 L495.3 754.5 L496.0 753.2 L496.7 751.8 L497.4 750.5 L498.0 749.2 L498.7 747.8 L499.4 746.5 L500.1 745.2 L500.8 743.9 L501.5 742.5 L502.3 741.2 L503.0 739.9 L503.7 738.6 L504.4 737.3 L505.1 736.0 L505.8 734.6 L506.6 733.3 L507.3 732.0 L508.0 730.7 L508.8 729.4 L509.5 728.1 L510.2 726.8 L511.0 725.5 L511.7 724.2 L512.5 722.9 L513.2 721.6 L514.0 720.3 L514.0 720.3" fill="none" stroke="#000" stroke-width="10.2" stroke-linecap="round" stroke-linejoin="round" stroke-dasharray="13 13"/>
<path d="M506.0 734.4 L525.7 701.0 L547.4 668.7 L571.2 638.4 L597.8 609.2 L626.2 581.4 L654.9 555.3 L684.9 530.5 L716.0 506.6 L748.0 483.6 L780.9 461.8 L814.6 441.4 L849.0 422.3 L884.0 405.1 L888.5 403.0 L891.0 396.5 L928.1 384.6 L964.9 371.5 L996.0 361.0 L998.0 352.0 L998.8 330.0 L1000.0 318.6 L1038.3 311.1 L1076.1 301.8 L1114.0 292.5 L1152.2 284.5 L1189.0 279.5" fill="none" stroke="#000" stroke-width="8.8" stroke-linecap="round" stroke-linejoin="round"/>
<path d="M1189.0 279.5 L1192.5 283.0 L1194.5 291.0 L1191.0 299.5" fill="none" stroke="#000" stroke-width="7.3" stroke-linecap="round" stroke-linejoin="round"/>
<path d="M1191.0 299.5 L1196.0 297.0 L1198.0 289.0 L1199.0 280.3" fill="none" stroke="#000" stroke-width="6.2" stroke-linecap="round" stroke-linejoin="round"/>
<path d="M1199.0 280.2 L1237.5 274.2 L1276.1 268.9 L1314.9 264.3 L1353.7 260.5 L1392.6 257.2 L1400.0 256.7" fill="none" stroke="#000" stroke-width="8.8" stroke-linecap="butt" stroke-linejoin="round"/>
<path d="M1399.8 256.7 L1438.9 254.0 L1477.9 251.8 L1482.0 251.6 M1498.3 250.8 L1523.8 249.7 M1539.8 249.1 L1578.3 247.8 L1588.9 247.5 M1601.8 247.1 L1618.9 246.7 M1633.5 246.4 L1672.8 245.7 L1711.8 245.2 L1736.9 245.0 M1761.6 244.8 L1767.0 244.8 M1781.6 244.7 L1821.3 244.5 L1842.2 244.5 M1858.8 244.5 L1897.8 244.4 L1919.7 244.4 M1934.8 244.4 L1965.2 244.3 M1979.5 244.2 L1979.5 244.2" fill="none" stroke="#000" stroke-width="10.1" stroke-linecap="round" stroke-linejoin="round"/>
<path d="M363.0 1005.1 L363.3 1004.1 L363.7 1002.7 L364.1 1001.2 L364.5 999.8 L364.9 998.4 L365.3 996.9 L365.7 995.5 L366.1 994.0 L366.5 992.6 L366.9 991.1 L367.3 989.7 L367.7 988.2 L368.1 986.8 L368.5 985.3 L368.8 983.9 L369.2 982.4 L369.6 981.0 L370.0 979.5 L370.4 978.1 L370.8 976.6 L371.2 975.2 L371.5 973.7 L371.9 972.3 L372.3 970.8 L372.7 969.4 L373.1 967.9 L373.4 966.5 L373.8 965.0 L374.2 963.6 L374.6 962.1 L374.9 960.7 L375.3 959.2 L375.7 957.8 L376.1 956.3 L376.4 954.9 L376.8 953.4 L377.2 952.0 L377.6 950.5 L377.9 949.0 L378.3 947.6 L378.7 946.1 L379.0 944.7 L379.4 943.2 L379.8 941.8 L380.1 940.3 L380.5 938.9 L380.9 937.4 L381.2 936.0 L381.6 934.5 L381.9 933.0 L382.3 931.6 L382.7 930.1 L383.0 928.7 L383.4 927.2 L383.8 925.8 L384.1 924.3 L384.5 922.9 L384.8 921.4 L385.2 919.9 L385.6 918.5 L385.9 917.0 L386.3 915.6 L386.6 914.1 L387.0 912.7 L387.4 911.2 L387.7 909.7 L388.1 908.3 L388.4 906.8 L388.8 905.4 L389.1 903.9 L389.5 902.5 L389.9 901.0 L390.2 899.5 L390.6 898.1 L390.9 896.6 L391.3 895.2 L391.6 893.7 L392.0 892.3 L392.4 890.8 L392.7 889.4 L393.1 887.9 L393.4 886.4 L393.8 885.0 L394.1 883.5 L394.5 882.1 L394.9 880.6 L395.2 879.2 L395.6 877.7 L395.9 876.2 L396.3 874.8 L396.7 873.3 L397.0 871.9 L397.4 870.4 L397.7 869.0 L398.1 867.5 L398.5 866.0 L398.8 864.6 L399.2 863.1 L399.5 861.7 L399.9 860.2 L400.3 858.8 L400.6 857.3 L401.0 855.9 L401.3 854.4 L401.7 852.9 L402.1 851.5 L402.4 850.0 L402.8 848.6 L403.2 847.1 L403.5 845.7 L403.9 844.2 L404.3 842.8 L404.6 841.3 L405.0 839.9 L405.4 838.4 L405.7 836.9 L406.1 835.5 L406.5 834.0 L406.9 832.6 L407.2 831.1 L407.6 829.7 L408.0 828.2 L408.4 826.8 L408.7 825.3 L409.1 823.9 L409.5 822.4 L409.9 821.0 L410.2 819.5 L410.6 818.1 L411.0 816.6 L411.4 815.2 L411.8 813.7 L412.1 812.3 L412.5 810.8 L412.9 809.4 L413.3 807.9 L413.7 806.5 L414.1 805.0 L414.5 803.6 L414.9 802.1 L415.2 800.7 L415.6 799.2 L416.0 797.8 L416.4 796.3 L416.8 794.9 L417.2 793.4 L417.6 792.0 L418.0 790.5 L418.4 789.1 L418.8 787.7 L419.2 786.2 L419.6 784.8 L420.0 783.3 L420.4 781.9 L420.8 780.4 L421.2 779.0 L421.7 777.5 L422.1 776.1 L422.5 774.7 L422.9 773.2 L423.3 771.8 L423.7 770.3 L424.1 768.9 L424.6 767.5 L425.0 766.0 L425.4 764.6 L425.8 763.1 L426.3 761.7 L426.7 760.3 L427.1 758.8 L427.5 757.4 L428.0 755.9 L428.4 754.5 L428.8 753.1 L429.3 751.6 L429.7 750.2 L430.1 748.8 L430.6 747.3 L431.0 745.9 L431.5 744.5 L431.9 743.0 L432.4 741.6 L432.8 740.2 L433.3 738.7 L433.7 737.3 L434.2 735.9 L434.6 734.5 L435.1 733.0 L435.5 731.6 L436.0 730.2 L436.5 728.7 L436.9 727.3 L437.4 725.9 L437.9 724.5 L438.3 723.0 L438.8 721.6 L439.3 720.2 L439.8 718.8 L440.2 717.4 L440.7 715.9 L441.0 715.1" fill="none" stroke="#000" stroke-width="8.5" stroke-linecap="round" stroke-linejoin="round" stroke-dasharray="13.5 18 0.1 16 0.1 14.6" stroke-dashoffset="20.3"/>
<path d="M351.0 1045.5 L361.0 1012.2" fill="none" stroke="#000" stroke-width="8.5" stroke-linecap="round" stroke-linejoin="round"/>
<path d="M341.5 1070.5 L344.5 1066.5" fill="none" stroke="#000" stroke-width="8.5" stroke-linecap="round" stroke-linejoin="round"/>
<path d="M441.0 715.1 L454.4 677.8 L468.8 641.6 L484.6 605.9 L501.8 570.9 L520.5 536.7 L540.6 503.3 L562.4 470.9 L585.7 439.7 L610.7 409.8 L637.3 381.3 L665.6 354.4 L695.4 329.2 L726.6 305.8 L759.0 284.2 L792.6 264.7 L827.2 247.5 L862.7 232.0 L898.9 218.0 L935.6 205.1 L972.9 193.3 L1010.6 182.7 L1048.6 173.0 L1086.8 164.7 L1125.3 158.1 L1163.9 152.5 L1202.6 147.9 L1241.4 144.0 L1280.3 140.8 L1303.0 139.2" fill="none" stroke="#000" stroke-width="8.8" stroke-linecap="butt" stroke-linejoin="round"/>
<path d="M1299.5 139.4 L1299.5 139.4 M1311.8 138.6 L1339.2 137.0 M1353.6 136.3 L1391.9 134.5 M1406.5 133.9 L1445.0 132.5 L1462.0 131.9 M1478.3 131.4 L1508.7 130.4 M1520.8 130.1 L1560.5 129.1 L1599.5 128.2 L1628.9 127.6 M1643.5 127.3 L1667.2 126.9 M1681.8 126.7 L1685.7 126.6 M1698.8 126.4 L1737.4 125.9 L1741.2 125.8 M1758.8 125.6 L1763.6 125.5 M1788.3 125.2 L1789.2 125.2 M1801.8 125.1 L1841.2 124.6 M1865.8 124.4 L1866.2 124.4 M1878.8 124.2 L1880.2 124.2 M1893.4 124.1 L1932.4 123.7 L1933.9 123.7 M1959.8 123.4 L1987.2 123.1" fill="none" stroke="#000" stroke-width="10.1" stroke-linecap="round" stroke-linejoin="round"/>
<path d="M648.0 372.5 L652.0 378.0 L654.5 386.5" fill="none" stroke="#000" stroke-width="7.3" stroke-linecap="round" stroke-linejoin="round"/>
</g>

<g id="labels">
<text transform="translate(311.5 86.9) scale(0.897 1)" text-anchor="end" font-size="77" class="t">1600</text>
<text transform="translate(311.5 335.3) scale(0.897 1)" text-anchor="end" font-size="77" class="t">1500</text>
<text transform="translate(311.5 583.7) scale(0.897 1)" text-anchor="end" font-size="77" class="t">1400</text>
<text transform="translate(311.5 832.1) scale(0.897 1)" text-anchor="end" font-size="77" class="t">1300</text>
<text transform="translate(311.5 1080.5) scale(0.897 1)" text-anchor="end" font-size="77" class="t">1200</text>
<text transform="translate(311.5 1328.9) scale(0.897 1)" text-anchor="end" font-size="77" class="t">1100</text>
<text transform="translate(338 1438) scale(0.897 1)" text-anchor="middle" font-size="77" class="t">0</text>
<text transform="translate(860 1438) scale(0.897 1)" text-anchor="middle" font-size="77" class="t">18,000</text>
<text transform="translate(1382 1438) scale(0.897 1)" text-anchor="middle" font-size="77" class="t">36,000</text>
<text transform="translate(1903 1438) scale(0.897 1)" text-anchor="middle" font-size="77" class="t">54,000</text>
<text transform="translate(1175 1526.3) scale(0.917 1)" text-anchor="middle" font-size="74" class="b">Time (s)</text>
<text transform="translate(98.5 699) rotate(-90)" text-anchor="middle" font-size="73" class="b">Conductivity (<tspan font-weight="normal" font-size="60">μ</tspan>S·cm<tspan font-size="43" font-weight="normal" dy="-40">-1</tspan><tspan dy="40">)</tspan></text>
<text transform="translate(1754 118.5) scale(0.91 1)" font-size="57" class="p">P5</text>
<text transform="translate(1754 236.5) scale(0.91 1)" font-size="57" class="p">P4</text>
<text transform="translate(1754 338) scale(0.91 1)" font-size="57" class="p">P2</text>
<text transform="translate(1754 414) scale(0.91 1)" font-size="57" class="p">P3</text>
<text transform="translate(1754 513) scale(0.91 1)" font-size="57" class="p">P1</text>
</g>
</g>

</svg>
</body>
</html>
